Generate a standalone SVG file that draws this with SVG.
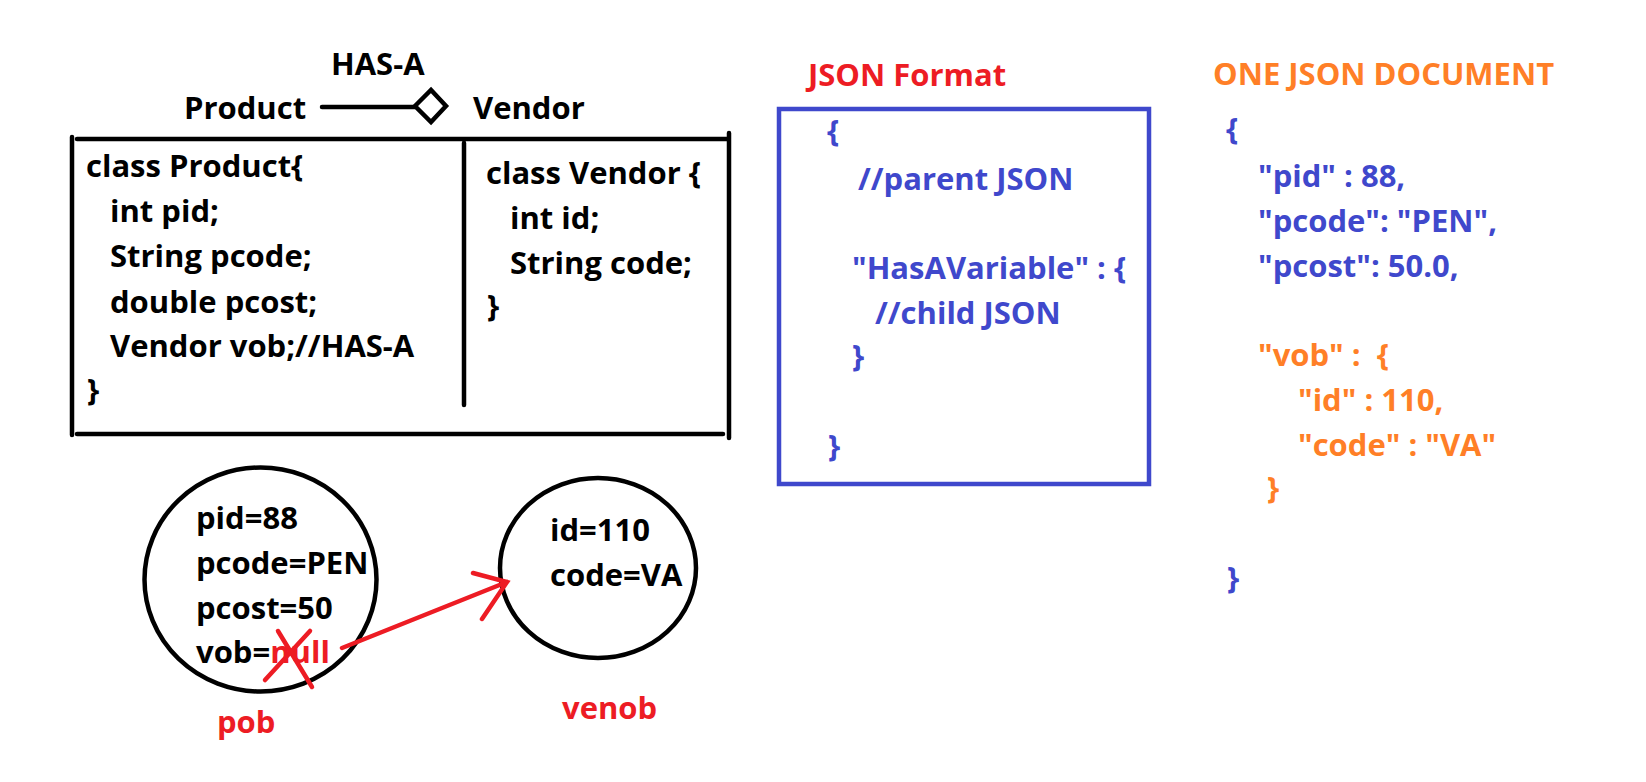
<svg xmlns="http://www.w3.org/2000/svg" width="1646" height="782" viewBox="0 0 1646 782">
<style>
text { font-family: "Open Sans", "Liberation Sans", sans-serif; font-weight: 700; font-size: 31px; }
.k { fill: #000000; }
.r { fill: #ED1C24; }
.b { fill: #3F48CC; }
.o { fill: #FF7F27; }
.ln { stroke: #000000; stroke-width: 4.5; fill: none; stroke-linecap: round; }
.rd { stroke: #ED1C24; stroke-width: 4.5; fill: none; stroke-linecap: round; }
.bx { stroke: #3F48CC; stroke-width: 4.5; fill: none; }
</style>
<rect width="1646" height="782" fill="#ffffff"/>

<g id="uml-header">
  <text class="k" x="331" y="75">HAS-A</text>
  <text class="k" x="184" y="119">Product</text>
  <text class="k" x="473" y="119">Vendor</text>
</g>

<g id="class-box">
  <path class="ln" d="M72 137 V435 M77 139 H729 M729 133 V438 M77 434 H723 M464 143 V405"/>
  <text class="k" x="86" y="177">class Product{</text>
  <text class="k" x="110" y="222">int pid;</text>
  <text class="k" x="110" y="267">String pcode;</text>
  <text class="k" x="110" y="313">double pcost;</text>
  <text class="k" x="110" y="357">Vendor vob;//HAS-A</text>
  <text class="k" x="87" y="401">}</text>
  <text class="k" x="486" y="184">class Vendor {</text>
  <text class="k" x="510" y="229">int id;</text>
  <text class="k" x="510" y="274">String code;</text>
  <text class="k" x="487" y="317">}</text>
</g>

<g id="pob">
  <ellipse class="ln" cx="260.5" cy="579.5" rx="116" ry="112"/>
  <text class="k" x="196" y="529">pid=88</text>
  <text class="k" x="196" y="574">pcode=PEN</text>
  <text class="k" x="196" y="619">pcost=50</text>
  <text class="k" x="196" y="663">vob=<tspan class="r">null</tspan></text>
  <text class="r" x="217" y="733">pob</text>
</g>

<g id="venob">
  <ellipse class="ln" cx="598" cy="568" rx="98" ry="90"/>
  <text class="k" x="550" y="541">id=110</text>
  <text class="k" x="550" y="586">code=VA</text>
  <text class="r" x="562" y="719">venob</text>
</g>

<g id="json-format">
  <text class="r" x="808" y="86">JSON Format</text>
  <rect class="bx" x="779" y="109" width="370" height="375"/>
  <text class="b" x="827" y="142">{</text>
  <text class="b" x="858" y="190">//parent JSON</text>
  <text class="b" x="852" y="279">"HasAVariable" : {</text>
  <text class="b" x="875" y="324">//child JSON</text>
  <text class="b" x="852" y="367">}</text>
  <text class="b" x="828" y="457">}</text>
</g>

<g id="one-json-document">
  <text class="o" x="1213" y="85">ONE JSON DOCUMENT</text>
  <text class="b" x="1226" y="140">{</text>
  <text class="b" x="1258" y="187">"pid" : 88,</text>
  <text class="b" x="1258" y="232">"pcode": "PEN",</text>
  <text class="b" x="1258" y="277">"pcost": 50.0,</text>
  <text class="o" x="1258" y="366" xml:space="preserve">"vob" :  {</text>
  <text class="o" x="1298" y="411">"id" : 110,</text>
  <text class="o" x="1298" y="456">"code" : "VA"</text>
  <text class="o" x="1267" y="499">}</text>
  <text class="b" x="1227" y="589">}</text>
</g>

<g id="connectors">
  <path class="ln" d="M322 107 H415"/>
  <polygon class="ln" points="415,106 431,90 446,106 431,122" fill="#ffffff" style="fill:#ffffff"/>
  <path class="rd" d="M342 648 L507 582 M473 573 L507 582 L482 619"/>
</g>

<g id="strike-null">
  <path class="rd" d="M265 680 L310 631 M278 631 L312 687"/>
</g>
</svg>
